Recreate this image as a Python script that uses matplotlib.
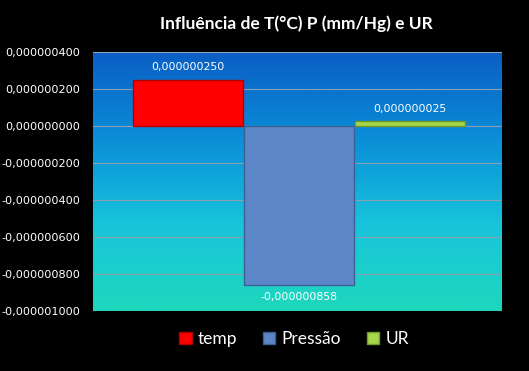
import matplotlib.pyplot as plt
import numpy as np
from matplotlib.colors import LinearSegmentedColormap
from matplotlib.ticker import FuncFormatter

series = ['temp', 'Pressão', 'UR']
values = [0.000000250, -0.000000858, 0.000000025]
colors = ['#ff0000', '#5b87c8', '#a8d84a']
edge_colors = ['#b00000', '#3d5f94', '#6e9a2a']
label_texts = ['0,000000250', '-0,000000858', '0,000000025']
yticks = [0.0000004, 0.0000002, 0.0, -0.0000002, -0.0000004, -0.0000006, -0.0000008, -0.000001]

fig = plt.figure(figsize=(5.29, 3.71), dpi=100, facecolor='black')
ax = fig.add_axes([93 / 529, 1 - 311 / 371, 409 / 529, 259 / 371])
ax.set_facecolor('black')

ymin, ymax = -0.000001, 0.0000004
xmin, xmax = -1.86, 1.83

# fundo em degradê (azul em cima, verde-água embaixo)
cmap = LinearSegmentedColormap.from_list('fundo', ['#0a5ec4', '#0a8ed8', '#18c4dc', '#1ed8bc'])
grad = np.linspace(0, 1, 256).reshape(-1, 1)
ax.imshow(grad, cmap=cmap, aspect='auto', extent=[xmin, xmax, ymin, ymax], zorder=0)

for yt in yticks:
    ax.axhline(yt, color='#8aa0b4', lw=0.8, zorder=1)

x = np.arange(len(series)) - 1
for i, (s, v) in enumerate(zip(series, values)):
    ax.bar(x[i], v, width=0.99, color=colors[i], edgecolor=edge_colors[i],
           linewidth=1.0, label=s, zorder=2)
    if v >= 0:
        ax.text(x[i], v + 0.00000004, label_texts[i], ha='center', va='bottom',
                color='white', fontsize=7.8, family='DejaVu Sans', zorder=3)
    else:
        ax.text(x[i], v - 0.00000004, label_texts[i], ha='center', va='top',
                color='white', fontsize=7.8, family='DejaVu Sans', zorder=3)

ax.set_xlim(xmin, xmax)
ax.set_ylim(ymin, ymax)
ax.set_yticks(yticks)
ax.yaxis.set_major_formatter(FuncFormatter(lambda v, p: f'{v:.9f}'.replace('.', ',').replace('-0,000000000', '0,000000000')))
ax.tick_params(axis='y', colors='white', labelsize=8.1, length=0, pad=9)
ax.set_xticks([])
for sp in ax.spines.values():
    sp.set_visible(False)

fig.text(0.56, 1 - 24 / 371, 'Influência de T(°C) P (mm/Hg) e UR', ha='center', va='center',
         color='white', fontsize=12.5, fontweight='bold', family='Lato')

leg = fig.legend(loc='center', bbox_to_anchor=(0.556, 1 - 339 / 371), ncol=3, frameon=False,
                 handlelength=0.7, handleheight=0.7, handletextpad=0.35, columnspacing=1.5,
                 prop={'family': 'Lato', 'size': 12.5})
for t in leg.get_texts():
    t.set_color('white')

plt.savefig('out.png', dpi=100, facecolor='black')
